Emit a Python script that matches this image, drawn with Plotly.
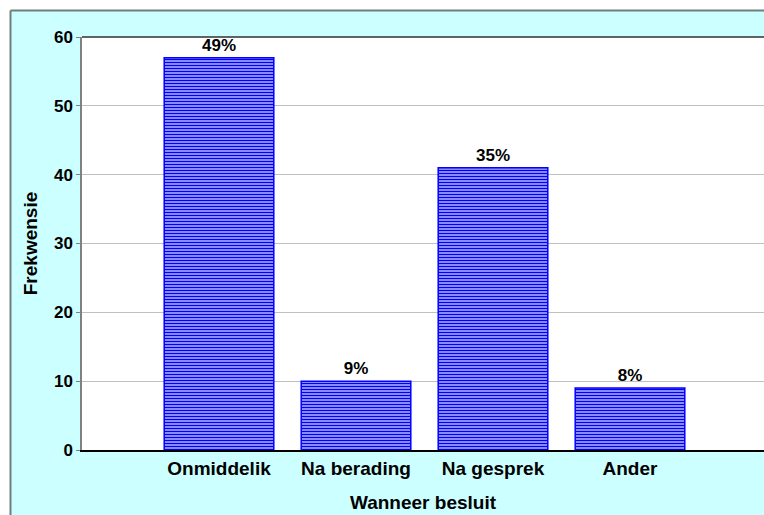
import plotly.graph_objects as go

categories = ["Onmiddelik", "Na berading", "Na gesprek", "Ander"]
frequencies = [57, 10, 41, 9]
percent_labels = ["49%", "9%", "35%", "8%"]
y_ticks = [0, 10, 20, 30, 40, 50, 60]

W, H = 764, 515
L, R, T, B = 82, 0, 37, 65
pw, ph = W - L - R, H - T - B

def px_x(x):
    return (x - L) / pw

def px_y(y):
    return (H - B - y) / ph

font = "Liberation Sans, Arial, sans-serif"
FS = 17
FL = 19

fig = go.Figure(go.Bar(
    x=list(range(len(categories))),
    y=frequencies,
    width=0.8,
    text=percent_labels,
    texttemplate="<b>%{text}</b>",
    textposition="outside",
    textfont=dict(family=font, size=FS, color="#000000"),
    cliponaxis=False,
    marker=dict(
        color="#e6e6ff",
        line=dict(color="#0000ff", width=1.5),
        pattern=dict(shape="-", fgcolor="#0000ff", bgcolor="#e6e6ff",
                     size=3, solidity=0.6, fillmode="replace"),
    ),
))

shapes = [
    dict(type="rect", xref="paper", yref="paper", x0=px_x(-20), x1=px_x(10),
         y0=px_y(H + 20), y1=px_y(-20), fillcolor="#ffffff", line_width=0, layer="below"),
    dict(type="rect", xref="paper", yref="paper", x0=px_x(-20), x1=px_x(W + 20),
         y0=px_y(10), y1=px_y(-20), fillcolor="#ffffff", line_width=0, layer="below"),
    dict(type="line", xref="paper", yref="paper", x0=px_x(10.5), x1=px_x(10.5),
         y0=px_y(H + 20), y1=px_y(10.5), line=dict(color="#6f7f7f", width=2)),
    dict(type="line", xref="paper", yref="paper", x0=px_x(10.5), x1=px_x(W + 20),
         y0=px_y(10.5), y1=px_y(10.5), line=dict(color="#6f7f7f", width=2)),
    dict(type="line", xref="paper", yref="paper", x0=0, x1=1.01,
         y0=1, y1=1, line=dict(color="#303030", width=1.5)),
]

fig.update_layout(
    width=W, height=H,
    margin=dict(l=L, r=R, t=T, b=B),
    paper_bgcolor="#ccffff",
    plot_bgcolor="#ffffff",
    showlegend=False,
    font=dict(family=font, size=FS, color="#000000"),
    shapes=shapes,
    xaxis=dict(
        range=[-1, (W - L - 137) / 137],
        tickmode="array",
        tickvals=list(range(len(categories))),
        ticktext=[f"<b>{c}</b>" for c in categories],
        tickfont=dict(family=font, size=FL, color="#000000"),
        showgrid=False,
        showline=True, linecolor="#000000", linewidth=1.5,
        ticks="", zeroline=False,
        title=dict(text="<b>Wanneer besluit</b>", font=dict(family=font, size=FL), standoff=18),
    ),
    yaxis=dict(
        range=[0, 60],
        tickmode="array",
        tickvals=y_ticks,
        ticktext=[f"<b>{v}</b>" for v in y_ticks],
        tickfont=dict(family=font, size=FS, color="#000000"),
        showgrid=True, gridcolor="#c0c0c0", gridwidth=1,
        showline=True, linecolor="#808080", linewidth=1.5,
        ticks="outside", ticklen=4, tickcolor="#808080",
        zeroline=False,
        title=dict(text="<b>Frekwensie</b>", font=dict(family=font, size=FL), standoff=11),
    ),
)

fig.write_html(
    "out.html",
    config={"displayModeBar": False},
    post_script="document.body.style.margin='0';document.body.style.overflow='hidden';",
)
